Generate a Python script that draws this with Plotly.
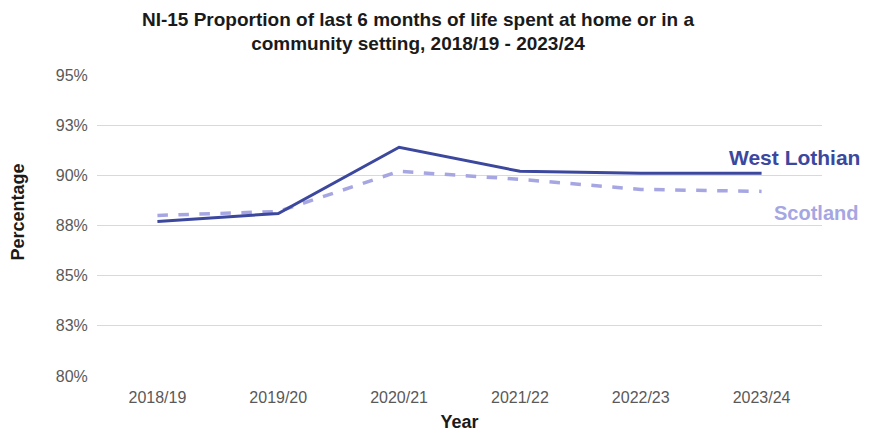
import plotly.graph_objects as go

years = ["2018/19", "2019/20", "2020/21", "2021/22", "2022/23", "2023/24"]
west_lothian = [87.7, 88.1, 91.4, 90.2, 90.1, 90.1]
scotland = [88.0, 88.2, 90.2, 89.8, 89.3, 89.2]
y_ticks = [80, 82.5, 85, 87.5, 90, 92.5, 95]
y_tick_labels = ["80%", "83%", "85%", "88%", "90%", "93%", "95%"]

dark = "#3c479e"
light = "#a6a6e2"
font = "Liberation Sans, Arial, sans-serif"

fig = go.Figure()
fig.add_trace(go.Scatter(x=years, y=scotland, mode="lines", name="Scotland",
                         line=dict(color=light, width=3.5, dash="dash")))
fig.add_trace(go.Scatter(x=years, y=west_lothian, mode="lines", name="West Lothian",
                         line=dict(color=dark, width=3)))

fig.add_annotation(x=0.962, xref="paper", y=90.88, yref="y", text="<b>West Lothian</b>",
                   xanchor="center", yanchor="middle",
                   showarrow=False, font=dict(family=font, size=21, color=dark))
fig.add_annotation(x=0.9917, xref="paper", y=88.14, yref="y", text="<b>Scotland</b>",
                   xanchor="center", yanchor="middle",
                   showarrow=False, font=dict(family=font, size=20, color=light))
fig.add_annotation(x=-79/725, xref="paper", y=0.543, yref="paper", text="<b>Percentage</b>",
                   textangle=-90, xanchor="center", yanchor="middle",
                   showarrow=False, font=dict(family=font, size=18, color="#1a1a1a"))

fig.update_layout(
    width=870, height=434,
    margin=dict(l=89, r=56, t=67, b=66),
    paper_bgcolor="white", plot_bgcolor="white",
    showlegend=False,
    title=dict(text="<b>NI-15 Proportion of last 6 months of life spent at home or in a<br>community setting, 2018/19 - 2023/24</b>",
               x=410/870, xanchor="center", y=0.959, yanchor="top",
               font=dict(family=font, size=19, color="#1a1a1a")),
    font=dict(family=font, size=16, color="#595959"),
)
fig.update_xaxes(type="category", range=[-0.5, 5.5], showgrid=False, showline=False,
                 ticks="", ticklabelstandoff=10, tickfont=dict(size=16, color="#595959"),
                 title=dict(text="<b>Year</b>", font=dict(size=18, color="#1a1a1a"), standoff=10))
fig.update_yaxes(range=[80, 95], tickvals=y_ticks, ticktext=y_tick_labels,
                 automargin=False,
                 showgrid=True, gridcolor="#d9d9d9", gridwidth=1, zeroline=False,
                 showline=False, ticks="outside", ticklen=5, tickcolor="rgba(0,0,0,0)",
                 tickfont=dict(size=16, color="#595959"))

fig.write_html("out.html")
